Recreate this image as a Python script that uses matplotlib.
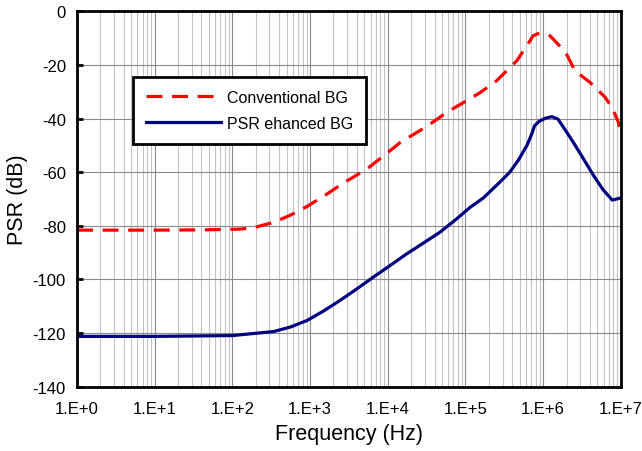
import matplotlib.pyplot as plt
from matplotlib.ticker import LogLocator, FixedLocator

plt.rcParams['font.family'] = ['Liberation Sans', 'DejaVu Sans']
plt.rcParams['axes.unicode_minus'] = False

# ---- data ----
conv_freq = [1, 10, 40, 100, 126, 186, 340, 560, 910, 1580, 2700, 5400,
             10700, 14500, 31600, 57500, 126000, 155000, 250000, 457000,
             630000, 740000, 850000, 955000, 1120000, 1230000, 1580000,
             2000000, 2570000, 4000000, 6300000, 7900000, 9300000, 10000000]
conv_psr = [-81.6, -81.6, -81.5, -81.3, -81.2, -80.7, -78.7, -76.0, -72.8,
            -68.5, -64.0, -58.8, -52.0, -48.9, -43.0, -37.7, -31.9, -30.3,
            -26.0, -18.5, -12.5, -9.2, -8.4, -8.3, -8.7, -9.2, -12.5, -16.0,
            -22.2, -26.5, -32.1, -36.5, -41.4, -46.4]

psr_freq = [1, 10, 100, 340, 560, 910, 1480, 2400, 4000, 6460, 10700, 17400,
            28800, 46800, 74000, 115000, 170000, 275000, 372000, 480000,
            617000, 708000, 776000, 890000, 1070000, 1290000, 1550000,
            1900000, 2450000, 3300000, 4470000, 5900000, 7760000, 10000000]
psr_psr = [-121.2, -121.2, -120.9, -119.4, -117.7, -115.3, -111.8, -107.9,
           -103.5, -99.2, -94.8, -90.5, -86.4, -82.4, -77.8, -73.1, -69.6,
           -63.8, -60.0, -55.5, -50.1, -46.0, -42.7, -41.0, -39.9, -39.3,
           -40.2, -44.0, -48.9, -55.0, -61.3, -66.5, -70.4, -69.6]

x_ticks = [1, 1e1, 1e2, 1e3, 1e4, 1e5, 1e6, 1e7]
x_tick_labels = ['1.E+0', '1.E+1', '1.E+2', '1.E+3', '1.E+4', '1.E+5', '1.E+6', '1.E+7']
y_ticks = [0, -20, -40, -60, -80, -100, -120, -140]

fig = plt.figure(figsize=(6.42, 4.52), dpi=100)
ax = fig.add_axes([0.12, 0.142, 0.847, 0.831])

ax.plot(conv_freq, conv_psr, color='#ff0000', lw=2.3, ls=(0, (5, 3)),
        label='Conventional BG')
ax.plot(psr_freq, psr_psr, color='#000080', lw=2.3, label='PSR ehanced BG')

ax.set_xscale('log')
ax.set_xlim(1, 1e7)
ax.set_ylim(-140, 0)

ax.xaxis.set_major_locator(FixedLocator(x_ticks))
ax.set_xticklabels(x_tick_labels)
ax.xaxis.set_minor_locator(LogLocator(base=10, subs=range(2, 10), numticks=20))
ax.set_yticks(y_ticks)

ax.grid(which='major', color='#8a8a8a', lw=0.8)
ax.grid(which='minor', axis='x', color='#c4c4c4', lw=0.8)
ax.set_axisbelow(True)

ax.tick_params(axis='x', which='both', length=0, pad=10, labelsize=12)
ax.tick_params(axis='y', which='major', direction='in', length=4, width=2,
               pad=8, labelsize=12)

for s in ax.spines.values():
    s.set_linewidth(2)
    s.set_color('black')

ax.set_xlabel('Frequency (Hz)', fontsize=15.5, labelpad=5)
ax.set_ylabel('PSR (dB)', fontsize=15.5, labelpad=3)

leg = ax.legend(loc='upper left', bbox_to_anchor=(0.103, 0.825), fontsize=11.5,
                frameon=True, fancybox=False, edgecolor='black',
                handlelength=4.7, borderpad=0.8, labelspacing=0.7,
                handletextpad=0.4, borderaxespad=0)
leg.get_frame().set_linewidth(2)
leg.get_frame().set_alpha(1)

fig.savefig('out.png', dpi=100)
